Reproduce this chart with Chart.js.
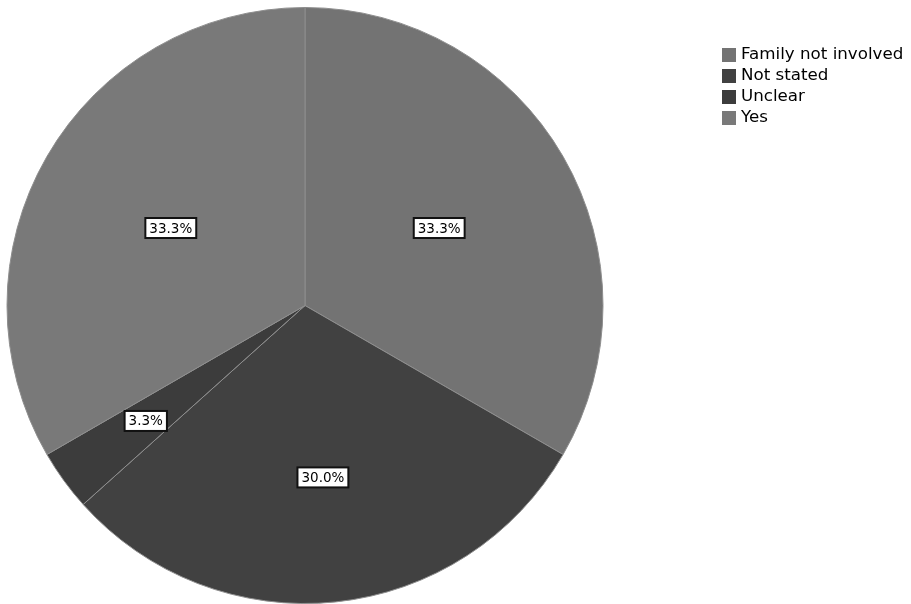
<!DOCTYPE html>
<html>
<head>
<meta charset="utf-8">
<script src="https://cdn.jsdelivr.net/npm/chart.js@4"></script>
<style>
  html, body { margin: 0; padding: 0; background: #fff; }
  #wrap { width: 911px; height: 604px; position: relative; }
</style>
</head>
<body>
<div id="wrap"><canvas id="pie-chart"></canvas></div>
<script>
// categories and shares (percent)
const categories = ["Family not involved", "Not stated", "Unclear", "Yes"]
const percents = [33.3, 30.0, 3.3, 33.3]
const sliceColors = ["#737373", "#414141", "#3c3c3c", "#797979"]

/* percent labels in white boxes */
const labelBoxes = {
    id: "labelBoxes",
    afterDatasetsDraw(chart, args, opts) {
        const ctx = chart.ctx
        const meta = chart.getDatasetMeta(0)
        ctx.save()
        ctx.font = "13.5px 'DejaVu Sans'"
        ctx.textAlign = "center"
        ctx.textBaseline = "middle"
        meta.data.forEach((arc, i) => {
            const p = arc.getProps(["x", "y", "startAngle", "endAngle", "outerRadius"], true)
            const mid = (p.startAngle + p.endAngle) / 2
            const r = p.outerRadius * opts.dist[i]
            const x = p.x + Math.cos(mid) * r
            const y = p.y + Math.sin(mid) * r
            const txt = percents[i].toFixed(1) + "%"
            const w = ctx.measureText(txt).width + 8
            const h = 20
            ctx.fillStyle = "#fff"
            ctx.fillRect(x - w / 2, y - h / 2, w, h)
            ctx.strokeStyle = "#111"
            ctx.lineWidth = 2
            ctx.strokeRect(x - w / 2, y - h / 2, w, h)
            ctx.fillStyle = "#000"
            ctx.fillText(txt, x, y + 1)
        })
        ctx.restore()
    }
}

/* legend drawn at top right */
const sideLegend = {
    id: "sideLegend",
    afterDraw(chart) {
        const ctx = chart.ctx
        ctx.save()
        ctx.font = "16.7px 'DejaVu Sans'"
        ctx.textBaseline = "middle"
        categories.forEach((c, i) => {
            const y = 55 + i * 21
            ctx.fillStyle = sliceColors[i]
            ctx.fillRect(722, y - 7, 14, 14)
            ctx.fillStyle = "#000"
            ctx.fillText(c, 741, y)
        })
        ctx.restore()
    }
}

const containerPie = document.querySelector("#pie-chart").getContext("2d")

const pieChart = new Chart(containerPie, {
    type: "pie",
    data: {
        labels: categories,
        datasets: [
            {
                data: percents,
                backgroundColor: sliceColors,
                borderColor: "#8e8e8e",
                borderWidth: 1,
            },
        ]
    },
    options: {
        responsive: true,
        maintainAspectRatio: false,
        animation: false,
        layout: { padding: { left: 6, right: 307, top: 7, bottom: 0 } },
        plugins: {
            legend: { display: false },
            tooltip: { enabled: false },
            labelBoxes: { dist: [0.52, 0.58, 0.66, 0.52] },
        }
    },
    plugins: [labelBoxes, sideLegend]
})
</script>
</body>
</html>
